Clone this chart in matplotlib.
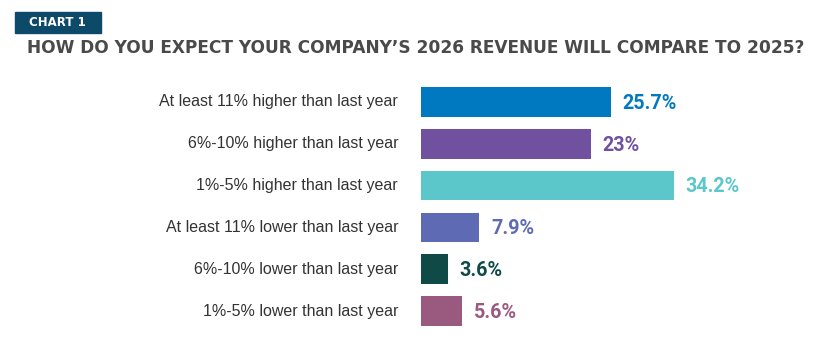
import matplotlib.pyplot as plt
from matplotlib.patches import Rectangle

categories = [
    "At least 11% higher than last year",
    "6%-10% higher than last year",
    "1%-5% higher than last year",
    "At least 11% lower than last year",
    "6%-10% lower than last year",
    "1%-5% lower than last year",
]
values = [25.7, 23, 34.2, 7.9, 3.6, 5.6]
value_labels = ["25.7%", "23%", "34.2%", "7.9%", "3.6%", "5.6%"]
colors = ["#0079c1", "#71509f", "#5bc7cb", "#5e6ab4", "#0f4a47", "#9a5a80"]

W, H = 826, 341
fig = plt.figure(figsize=(W / 100, H / 100), dpi=100)

# "CHART 1" tag
fig.patches.append(Rectangle((15 / W, 1 - 33 / H), 86 / W, 21 / H,
                             transform=fig.transFigure, color="#0d4a6a"))
fig.text(29 / W, 1 - 23 / H, "CHART 1", color="white", fontsize=8.5,
         fontweight="bold", family="DejaVu Sans", va="center")

fig.text(27 / W, 1 - 48 / H,
         "HOW DO YOU EXPECT YOUR COMPANY\u2019S 2026 REVENUE WILL COMPARE TO 2025?",
         color="#4a4a4a", fontsize=12.25, fontweight="bold",
         family="DejaVu Sans", va="center")

ax = fig.add_axes([421 / W, 9 / H, 380 / W, 251 / H])
y = list(range(len(values)))
ax.barh(y, values, height=0.71, color=colors)
ax.set_xlim(0, 380 / 7.39)
ax.set_ylim(5.5, -0.5)
ax.axis("off")

for i, (v, lab, c) in enumerate(zip(values, value_labels, colors)):
    ax.text(v + 1.6, i + 0.03, lab, color=c, fontsize=14.2, fontweight="bold",
            family="Roboto", va="center", ha="left")
    ax.text(-3.1, i, categories[i], color="#333333", fontsize=11.5,
            family="Liberation Sans", va="center", ha="right")

fig.savefig("out.png", dpi=100)
